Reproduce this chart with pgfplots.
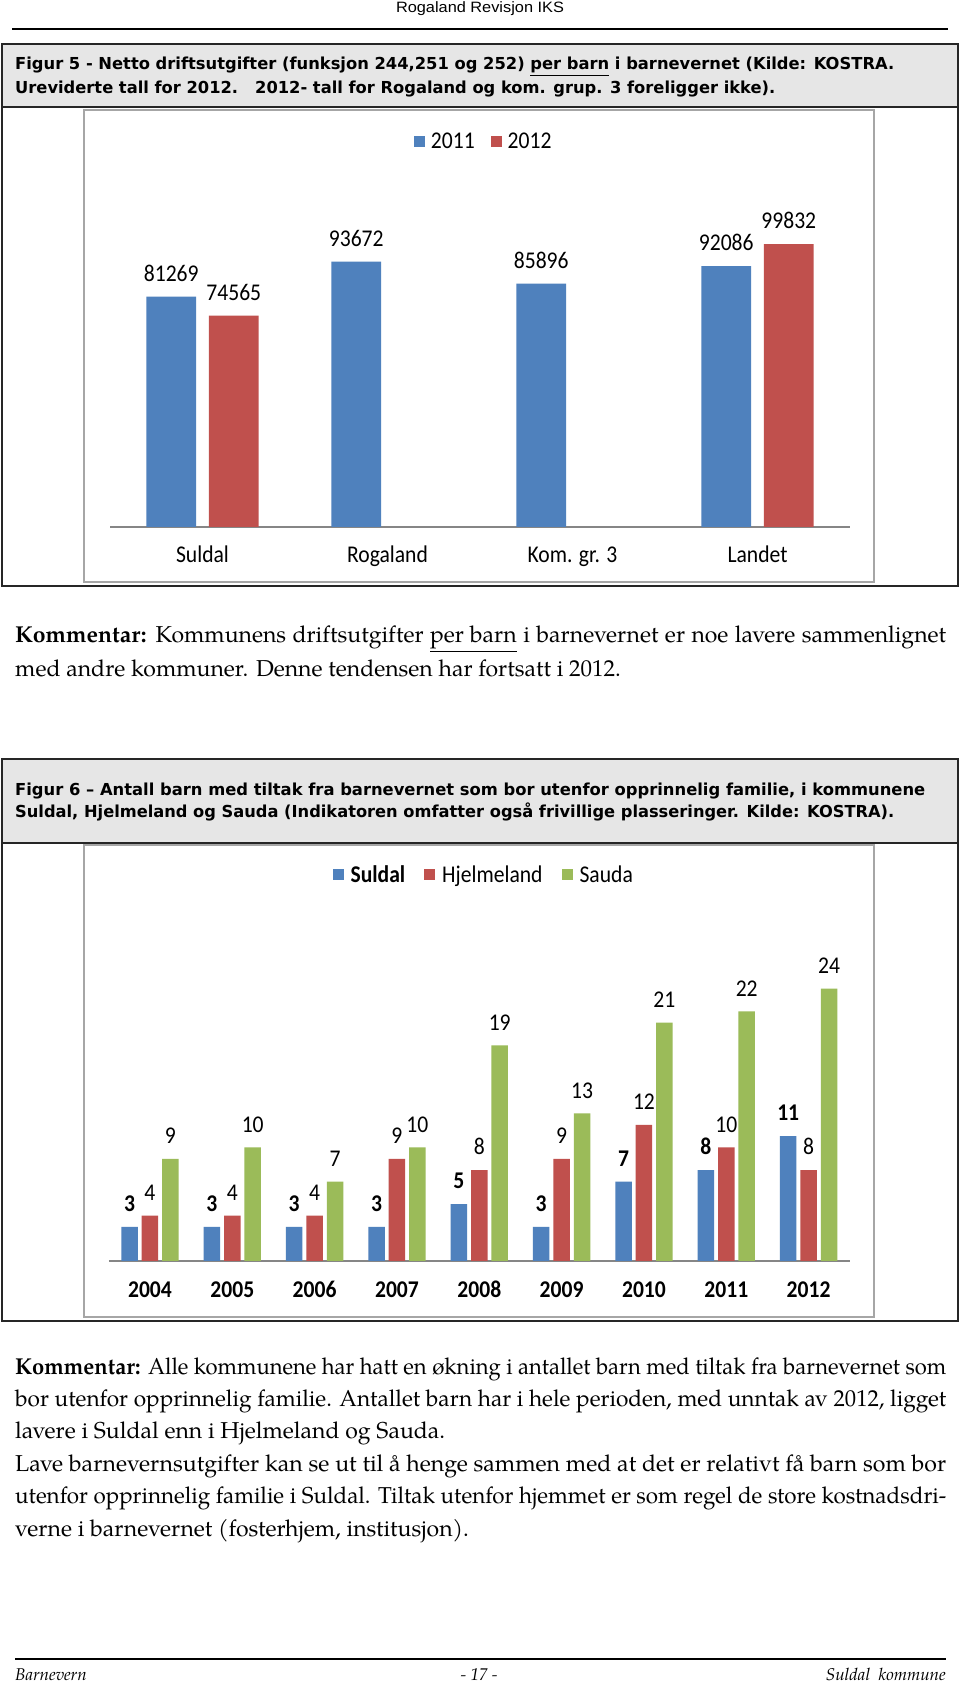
\documentclass[border=0pt]{standalone}
\usepackage{graphicx}
\usepackage{fontspec}
\usepackage{pgfplots}
\pgfplotsset{compat=1.18}
\setmainfont{texgyrepagella}[Extension=.otf, UprightFont=*-regular, BoldFont=*-bold, ItalicFont=*-italic, BoldItalicFont=*-bolditalic]
\newfontfamily\calib[FakeStretch=0.9]{Carlito}
\newfontfamily\verd{DejaVu Sans}
\newfontfamily\arialf{Liberation Sans}
\definecolor{xblue}{HTML}{4F81BD}
\definecolor{xred}{HTML}{C0504D}
\definecolor{xgreen}{HTML}{9BBB59}
\definecolor{axgray}{HTML}{868686}
\definecolor{capgray}{HTML}{E6E6E6}
\definecolor{framegray}{HTML}{A6A6A6}
\newcommand{\cfont}{\calib\fontsize{24}{28}\selectfont}
\newcommand{\bodyfont}{\fontsize{23}{28}\selectfont}
\newcommand{\capfont}{\verd\bfseries\fontsize{16.5}{20}\selectfont}
\newsavebox\linebox
\newcommand{\fullline}[1]{\sbox\linebox{#1}\ifdim\wd\linebox>925pt\resizebox{931pt}{\height}{\usebox\linebox}\else\makebox[931pt][s]{#1}\fi}
\pgfplotsset{ybar legend/.style={legend image code/.code={\fill[##1] (0pt,-5.5pt) rectangle (11pt,5.5pt);}}}
\begin{document}
\begin{tikzpicture}[x=1pt,y=1pt]
\clip (0,0) rectangle (960,1684);
\fill[white] (0,0) rectangle (960,1684);
% header
\node[anchor=base, inner sep=0] at (480,1671) {\resizebox{168pt}{\height}{\arialf\fontsize{15}{18}\selectfont Rogaland Revisjon IKS}};
\draw[line width=1.2pt] (12,1655) -- (948,1655);
% caption 5
\draw[fill=capgray, line width=1.5pt, draw=black!85] (2,1577) rectangle (958,1640);
\node[anchor=base west, inner sep=0] at (15,1614) {\resizebox{879pt}{\height}{\capfont Figur 5 - Netto driftsutgifter (funksjon 244,251 og 252) \underline{per barn} i barnevernet (Kilde: KOSTRA.}};
\node[anchor=base west, inner sep=0] at (15,1590) {\resizebox{760pt}{\height}{\capfont Ureviderte tall for 2012.\ \ \ 2012- tall for Rogaland og kom. grup. 3 foreligger ikke).}};
% chart 1 frames
\draw[line width=1.5pt, draw=black!85] (2,1098) rectangle (958,1577);
\draw[line width=1.5pt, draw=framegray] (84,1102) rectangle (874,1574);
\begin{axis}[
  at={(110pt,1157pt)}, anchor=south west,
  scale only axis, width=740pt, height=340pt,
  ymin=0, ymax=120000, xmin=-0.5, xmax=3.5,
  axis x line=bottom, axis y line=none,
  x axis line style={-, draw=axgray, line width=1.5pt},
  xtick={0,1,2,3}, xticklabels={Suldal, Rogaland, Kom. gr. 3, Landet},
  major tick length=0pt,
  xticklabel style={font=\cfont, anchor=base, yshift=-36pt, text=black},
  ybar, bar width=0.27,
  nodes near coords={\pgfmathprintnumber[fixed,precision=0,1000 sep={},assume math mode=true]{\pgfplotspointmeta}},
  nodes near coords style={font=\cfont, anchor=south, inner sep=0pt, yshift=15pt, text=black},
  clip=false,
  legend style={at={(0.505,1.135)}, anchor=center, draw=none, fill=none, legend columns=-1, font=\cfont, /tikz/every odd column/.append style={column sep=4pt}, /tikz/every even column/.append style={column sep=14pt}},
]
\addplot[fill=xblue, draw=none, bar shift=-0.169] coordinates {(0,81269) (1,93672) (2,85896) (3,92086)};
\addplot[fill=xred, draw=none, bar shift=0.169] coordinates {(0,74565) (3,99832)};
\legend{2011,2012}
\end{axis}
% comment 1
\node[anchor=base west, inner sep=0] at (15,1041) {\bodyfont\fullline{\textbf{Kommentar:} Kommunens driftsutgifter \underline{per barn} i barnevernet er noe lavere sammenlignet}};
\node[anchor=base west, inner sep=0] at (15,1007) {\bodyfont med andre kommuner. Denne tendensen har fortsatt i 2012.};
% caption 6
\draw[fill=capgray, line width=1.5pt, draw=black!85] (2,841) rectangle (958,925);
\node[anchor=base west, inner sep=0] at (15,888) {\resizebox{910pt}{\height}{\capfont Figur 6 – Antall barn med tiltak fra barnevernet som bor utenfor opprinnelig familie, i kommunene}};
\node[anchor=base west, inner sep=0] at (15,866) {\resizebox{879pt}{\height}{\capfont Suldal, Hjelmeland og Sauda (Indikatoren omfatter også frivillige plasseringer. Kilde: KOSTRA).}};
% chart 2 frames
\draw[line width=1.5pt, draw=black!85] (2,363) rectangle (958,841);
\draw[line width=1.5pt, draw=framegray] (84,367) rectangle (874,839);
\begin{axis}[
  at={(108.8pt,423pt)}, anchor=south west,
  scale only axis, width=741pt, height=340.5pt,
  ymin=0, ymax=30, xmin=-0.5, xmax=8.5,
  axis x line=bottom, axis y line=none,
  x axis line style={-, draw=axgray, line width=1.5pt},
  xtick={0,1,2,3,4,5,6,7,8}, xticklabels={2004,2005,2006,2007,2008,2009,2010,2011,2012},
  major tick length=0pt,
  xticklabel style={font=\cfont\bfseries, anchor=base, yshift=-37pt, text=black},
  ybar, bar width=0.2,
  nodes near coords={\pgfmathprintnumber[assume math mode=true]{\pgfplotspointmeta}},
  nodes near coords style={font=\cfont, anchor=south, inner sep=0pt, yshift=15pt, text=black},
  clip=false,
  legend style={at={(0.506,1.134)}, anchor=center, draw=none, fill=none, legend columns=-1, font=\cfont, /tikz/every odd column/.append style={column sep=5pt}, /tikz/every even column/.append style={column sep=17pt}},
]
\addplot[fill=xblue, draw=none, bar shift=-0.248, every node near coord/.append style={font=\cfont\bfseries}] coordinates {(0,3) (1,3) (2,3) (3,3) (4,5) (5,3) (6,7) (7,8) (8,11)};
\addplot[fill=xred, draw=none, bar shift=0] coordinates {(0,4) (1,4) (2,4) (3,9) (4,8) (5,9) (6,12) (7,10) (8,8)};
\addplot[fill=xgreen, draw=none, bar shift=0.248] coordinates {(0,9) (1,10) (2,7) (3,10) (4,19) (5,13) (6,21) (7,22) (8,24)};
\legend{\textbf{Suldal},Hjelmeland,Sauda}
\end{axis}
% comment 2
\node[anchor=base west, inner sep=0] at (15,309) {\bodyfont\fullline{\textbf{Kommentar:} Alle kommunene har hatt en økning i antallet barn med tiltak fra barnevernet som}};
\node[anchor=base west, inner sep=0] at (15,277) {\bodyfont\fullline{bor utenfor opprinnelig familie. Antallet barn har i hele perioden, med unntak av 2012, ligget}};
\node[anchor=base west, inner sep=0] at (15,245) {\bodyfont lavere i Suldal enn i Hjelmeland og Sauda.};
\node[anchor=base west, inner sep=0] at (15,212) {\bodyfont\fullline{Lave barnevernsutgifter kan se ut til å henge sammen med at det er relativt få barn som bor}};
\node[anchor=base west, inner sep=0] at (15,180) {\bodyfont\fullline{utenfor opprinnelig familie i Suldal. Tiltak utenfor hjemmet er som regel de store kostnadsdri-}};
\node[anchor=base west, inner sep=0] at (15,147) {\bodyfont verne i barnevernet (fosterhjem, institusjon).};
% footer
\draw[line width=1.2pt] (15,25) -- (946,25);
\node[anchor=base west, inner sep=0] at (15,4) {\fontsize{17}{20}\selectfont\itshape Barnevern};
\node[anchor=base, inner sep=0] at (479,4) {\fontsize{17}{20}\selectfont\itshape - 17 -};
\node[anchor=base east, inner sep=0] at (946,4) {\fontsize{17}{20}\selectfont\itshape Suldal\ \ kommune};
\end{tikzpicture}
\end{document}
